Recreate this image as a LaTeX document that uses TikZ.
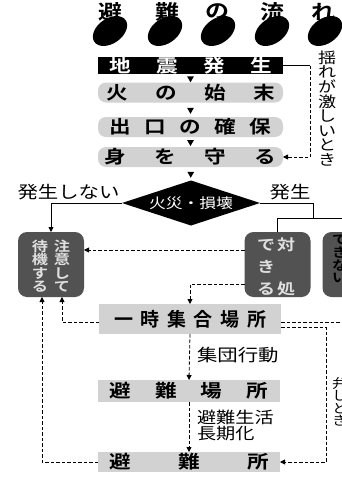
\documentclass[tikz,border=0pt]{standalone}
\usepackage{fontspec}
\setmainfont{Noto Sans CJK JP}[FakeStretch=1.2, BoldFont={Noto Sans CJK JP Bold}, BoldFeatures={FakeStretch=1.2}]
\newfontfamily\jpplain{Noto Sans CJK JP}[BoldFont={Noto Sans CJK JP Bold}]
\usetikzlibrary{shapes.geometric,arrows.meta}
\newcommand\jfs[2]{\fontsize{#1}{#2}\selectfont}
\begin{document}
\begin{tikzpicture}[x=1pt,y=-1pt,
 every node/.style={inner sep=0pt,outer sep=0pt},
 ln/.style={line width=0.8pt},
 dsh/.style={line width=0.8pt,dash pattern=on 3.5pt off 2pt},
 arr/.style={-{Triangle[length=5pt,width=5pt]}},
 blackbox/.style={fill=black,text=white,minimum width=185pt,minimum height=17pt,font=\bfseries\jfs{18}{18}},
 pill/.style={fill=gray!35,rounded corners=8pt,minimum width=185pt,minimum height=20pt,font=\bfseries\jfs{18}{18}},
 rect/.style={fill=gray!35,minimum width=182pt,font=\bfseries\jfs{18}{18}},
 dbox/.style={fill=black!68,rounded corners=9pt,minimum width=66pt,minimum height=65pt},
 col/.style={align=center,text=white!88!black},
 tri/.style={regular polygon,regular polygon sides=3,shape border rotate=180,fill=black,minimum size=8pt},
 blob/.style={ellipse,fill=black,minimum width=38pt,minimum height=25pt,rotate=35},
 ttl/.style={font=\bfseries\jfs{20}{20}},
 lbl/.style={font=\jfs{17}{17}},
 lbltwo/.style={align=left,font=\jfs{16}{16.5}},
]
\fill[white] (0,0) rectangle (342,477);
\useasboundingbox (0,0) rectangle (342,477);

% title
\foreach \i/\bx/\cx/\ch in {1/110/110/避,2/165/167/難,3/218/217/の,4/272/272/流,5/325/323/れ}{
  \node[blob] (b\i) at (\bx,31) {};
  \node[ttl] (t\i) at (\cx,12) {\ch};
}

% top flow
\node[blackbox] (jishin) at (190.5,65.5) {地\hspace{25.4pt}震\hspace{25.4pt}発\hspace{25.4pt}生\hspace{8pt}};
\node[pill] (hi) at (190.5,92.5) {火\hspace{27.4pt}の\hspace{27.4pt}始\hspace{27.4pt}末\hspace{10pt}};
\node[pill] (deguchi) at (190.5,127) {出\hspace{13.4pt}口\hspace{13.4pt}の\hspace{13.4pt}確\hspace{13.4pt}保\hspace{20pt}};
\node[pill] (mamoru) at (190.5,157) {身\hspace{28.4pt}を\hspace{28.4pt}守\hspace{28.4pt}る\hspace{14pt}};
\node[diamond,fill=black,text=white,aspect=3,minimum width=138pt,minimum height=45pt,font=\jfs{14}{14}] (dia) at (191,203) {火災・損壊};

\node[lbl,align=center,font=\jfs{15}{14.6}] (yure) at (327,108.5) {揺\\れ\\が\\激\\し\\い\\と\\き};
\node[lbl] (ns) at (68.5,192) {発生しない};
\node[lbl] (hs) at (290,192) {発生};

% dark boxes
\node[dbox] (lb) at (51,264.5) {};
\node[dbox] (mb) at (277.5,264.5) {};
\node[dbox] (tb) at (355.5,264.5) {};
\node[col,font=\bfseries\jfs{13.5}{13.4}] (lb1) at (62,266) {注\\意\\し\\て};
\node[col,font=\bfseries\jfs{13.5}{13.4}] (lb2) at (40,266) {待\\機\\す\\る};
\node[col,font=\bfseries\jfs{15}{22}] (mb1) at (286,267) {対\\\phantom{き}\\処};
\node[col,font=\bfseries\jfs{15}{22}] (mb2) at (266,267) {で\\き\\る};
\node[col,text=black,font=\bfseries\jfs{13}{12.7}] (tb2) at (340,259) {で\\き\\な\\い};
\node[col,text=black,font=\bfseries\jfs{13}{12.7}] (tb1) at (362,259) {対\\処};

% lower boxes
\node[rect,font=\bfseries\jpplain\jfs{19}{19},minimum height=30pt] (ichi) at (190,319) {一\hspace{7.6pt}時\hspace{7.6pt}集\hspace{7.6pt}合\hspace{7.6pt}場\hspace{7.6pt}所\hspace{13pt}};
\node[rect,minimum height=22pt] (hbs) at (189,391) {避\hspace{24pt}難\hspace{24pt}場\hspace{24pt}所\hspace{3pt}};
\node[rect,minimum height=20pt] (hjo) at (189,462) {避\hspace{47.4pt}難\hspace{47.4pt}所};
\node[lbl,anchor=west] (shudan) at (197,355) {集団行動};
\node[lbltwo,anchor=north west] (seikatsu) at (197,410) {避難生活\\長期化};
\node[align=center,font=\jfs{13}{12.5}] (benshi) at (340,402) {弁\\し\\と\\き};

% connectors
\path (jishin.south) -- (hi.north) node[midway,tri] (tr1) {};
\path (hi.south) -- (deguchi.north) node[midway,tri] (tr2) {};
\path (deguchi.south) -- (mamoru.north) node[midway,tri] (tr3) {};
\path (mamoru.south) -- (dia.north) node[midway,tri] (tr4) {};

\draw[ln] (jishin.east) -- ++(27,0) coordinate (c1);
\draw[dsh,arr] (c1) |- (mamoru.east);

\draw[ln,arr] (dia.west) -| (lb.north);
\coordinate (br) at (313,218);
\draw[ln] (dia.east) -| (br);
\draw[ln] (mb.north) -- ++(0,-14) -| (tb.north);

\draw[dsh,arr] ([yshift=14.5pt]mb.west) -- ([yshift=14.5pt]lb.east);
\draw[dsh,arr] ([yshift=-19.5pt]mb.west) -| (ichi.north);
\draw[dsh,arr] ([yshift=-3pt]ichi.west) -| ([xshift=11pt]lb.south);
\draw[dsh,arr] (hjo.west) -| ([xshift=-9pt]lb.south);
\draw[dsh,arr] (ichi.south) -- (hbs.north);
\draw[dsh,arr] (hbs.south) -- (hjo.north);
\draw[dsh] ([yshift=-3pt]ichi.east) -- ++(70,0) coordinate (offr);
\draw[dsh,arr] ([yshift=-8pt]ichi.east) -- ++(45,0) coordinate (rv) |- (hjo.east);
\end{tikzpicture}
\end{document}
